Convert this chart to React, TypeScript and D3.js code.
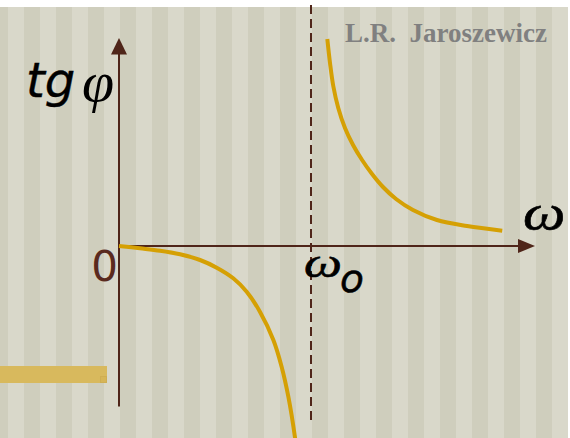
import React from "react";
import * as d3 from "d3";

// Phase response: tangent of the phase angle vs. angular frequency (ω0 = 1)
const belowResonanceOmega = [0, 0.109, 0.214, 0.318, 0.422, 0.509, 0.595, 0.665, 0.734, 0.804, 0.847, 0.882, 0.917, 0.925];
const belowResonanceTg = [0, -0.046, -0.094, -0.166, -0.28, -0.434, -0.646, -0.914, -1.314, -1.88, -2.414, -3.014, -3.84, -4.1];

const aboveResonanceOmega = [1.085, 1.099, 1.116, 1.142, 1.177, 1.219, 1.266, 1.318, 1.375, 1.443, 1.531, 1.656, 1.813, 1.996];
const aboveResonanceTg = [4.14, 3.66, 3.2, 2.76, 2.36, 2.02, 1.72, 1.44, 1.18, 0.94, 0.72, 0.52, 0.4, 0.306];

const omegaResonance = 1;
const omegaMax = 2.1667;
const tgMin = -3.84;
const tgMax = 4.16;

const W = 570;
const H = 438;

const STRIPE_LIGHT = "#d9d8ca";
const STRIPE_DARK = "#cfcebd";
const AXIS = "#4f2519";
const CURVE = "#d5a004";

export default function App() {
  const x = d3.scaleLinear().domain([0, omegaMax]).range([119, 535]);
  const y = d3.scaleLinear().domain([tgMin, tgMax]).range([H, 38]);

  const line = d3
    .line<[number, number]>()
    .x((d) => x(d[0]))
    .y((d) => y(d[1]))
    .curve(d3.curveCatmullRom.alpha(0.5));

  const below = belowResonanceOmega.map((w, i) => [w, belowResonanceTg[i]] as [number, number]);
  const above = aboveResonanceOmega.map((w, i) => [w, aboveResonanceTg[i]] as [number, number]);

  const stripes = d3.range(0, 18).map((i) => 8 + i * 32);

  const x0 = x(0);
  const yZero = y(0);
  const xRes = x(omegaResonance);

  const greek = "'Liberation Serif', 'Times New Roman', serif";
  const sans = "'DejaVu Sans', Verdana, sans-serif";

  return (
    <svg
      width={W}
      height={H}
      style={{ position: "absolute", left: 0, top: 0, display: "block" }}
    >
      <rect x={0} y={0} width={W} height={H} fill="#ffffff" />
      <rect x={0} y={7} width={568} height={H - 7} fill={STRIPE_DARK} />
      {stripes.map((sx) => (
        <rect key={sx} x={sx} y={7} width={16} height={H - 7} fill={STRIPE_LIGHT} />
      ))}

      {/* decorative bar */}
      <rect x={0} y={366} width={107} height={17} fill="#d8b95d" />
      <rect x={100.5} y={376.5} width={6} height={6} fill="#d6b557" stroke="#cfae52" strokeWidth={1} />

      {/* author */}
      <text
        x={345}
        y={42}
        fontFamily={greek}
        fontWeight="bold"
        fontSize={27}
        fill="#808080"
        style={{ whiteSpace: "pre" }}
      >
        {"L.R.  Jaroszewicz"}
      </text>

      {/* resonance asymptote */}
      <line
        x1={xRes}
        x2={xRes}
        y1={5}
        y2={421}
        stroke={AXIS}
        strokeWidth={2}
        strokeDasharray="9 5"
      />

      {/* axes */}
      <line x1={x0} x2={x0} y1={406.5} y2={50} stroke={AXIS} strokeWidth={2} />
      <path d={`M${x0},38 L${x0 + 8},54.5 L${x0 - 8},54.5 Z`} fill={AXIS} />
      <line x1={x0} x2={522} y1={yZero} y2={yZero} stroke={AXIS} strokeWidth={2} />
      <path d={`M535,${yZero} L518,${yZero - 7} L518,${yZero + 7} Z`} fill={AXIS} />

      {/* curves */}
      <path d={line(below) ?? ""} fill="none" stroke={CURVE} strokeWidth={4} />
      <path d={line(above) ?? ""} fill="none" stroke={CURVE} strokeWidth={4} />

      {/* labels */}
      <text x={26} y={97} fontFamily={sans} fontStyle="oblique" fontSize={48} fill="#000" stroke="#000" strokeWidth={0.4}>
        tg
      </text>
      <text x={82} y={101} fontFamily={greek} fontStyle="italic" fontSize={58} fill="#000">
        φ
      </text>
      <text x={118} y={281} textAnchor="end" fontFamily={sans} fontSize={42} fill="#5a2a1e">
        0
      </text>
      <text
        transform="translate(304,277) scale(1.28,1)"
        fontFamily={greek}
        fontStyle="italic"
        fontSize={42}
        fill="#000"
        stroke="#000"
        strokeWidth={0.6}
      >
        ω
      </text>
      <text x={340} y={292} fontFamily={sans} fontStyle="oblique" fontSize={39} fill="#000" stroke="#000" strokeWidth={0.5}>
        o
      </text>
      <text
        transform="translate(523,230) scale(1.2,1)"
        fontFamily={greek}
        fontStyle="italic"
        fontSize={50}
        fill="#000"
        stroke="#000"
        strokeWidth={0.6}
      >
        ω
      </text>
    </svg>
  );
}
